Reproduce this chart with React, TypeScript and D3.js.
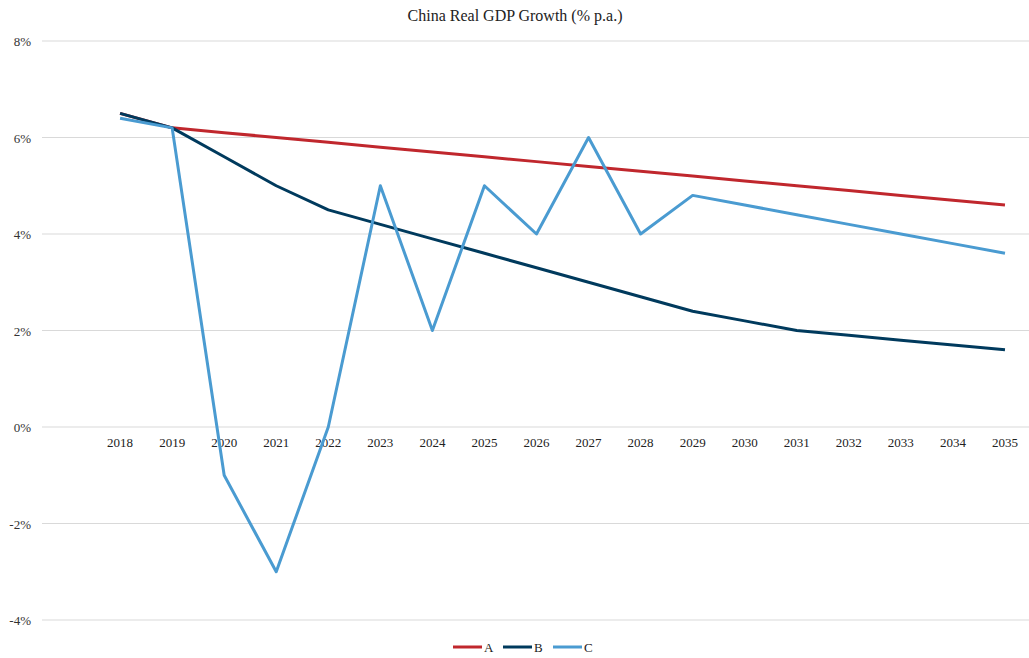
import React from "react";
import * as d3 from "d3";

const categories = ["", "2018", "2019", "2020", "2021", "2022", "2023", "2024", "2025", "2026", "2027", "2028", "2029", "2030", "2031", "2032", "2033", "2034", "2035"];
const years = categories.slice(1);
const seriesA = [6.5, 6.2, 6.1, 6.0, 5.9, 5.8, 5.7, 5.6, 5.5, 5.4, 5.3, 5.2, 5.1, 5.0, 4.9, 4.8, 4.7, 4.6];
const seriesB = [6.5, 6.2, 5.6, 5.0, 4.5, 4.2, 3.9, 3.6, 3.3, 3.0, 2.7, 2.4, 2.2, 2.0, 1.9, 1.8, 1.7, 1.6];
const seriesC = [6.4, 6.2, -1, -3, 0, 5, 2, 5, 4, 6, 4, 4.8, 4.6, 4.4, 4.2, 4.0, 3.8, 3.6];
const yTicks = [-4, -2, 0, 2, 4, 6, 8];
const seriesNames = ["A", "B", "C"];
const colors = ["#C0272D", "#003A5D", "#4A9BD1"];

export default function App() {
  const W = 1029, H = 658;
  const left = 42, right = 1031, top = 41, bottom = 620;
  const x = d3.scaleBand<string>().domain(categories).range([left, right]).padding(0);
  const y = d3.scaleLinear().domain([-4, 8]).range([bottom, top]);
  const line = d3.line<number>()
    .x((_, i) => (x(years[i]) as number) + x.bandwidth() / 2)
    .y((d) => y(d));
  const all = [seriesA, seriesB, seriesC];
  const font = "'Liberation Serif', 'Times New Roman', serif";
  const legendX = [453, 503, 553];
  return (
    <svg width={W} height={H} style={{ position: "absolute", left: 0, top: 0, background: "#fff" }} fontFamily={font}>
      <rect x={0} y={0} width={W} height={H} fill="#fff" />
      <text x={515} y={21} textAnchor="middle" fontSize={16} fill="#222">China Real GDP Growth (% p.a.)</text>
      {yTicks.map((t) => (
        <g key={t}>
          <line x1={left} x2={W} y1={y(t)} y2={y(t)} stroke="#d9d9d9" strokeWidth={1} />
          <text x={31} y={y(t) + 5} textAnchor="end" fontSize={13} fill="#333">{t}%</text>
        </g>
      ))}
      {years.map((c) => (
        <text key={c} x={(x(c) as number) + x.bandwidth() / 2} y={y(0) + 20} textAnchor="middle" fontSize={13} fill="#222">{c}</text>
      ))}
      {all.map((s, i) => (
        <path key={i} d={line(s) as string} fill="none" stroke={colors[i]} strokeWidth={3} strokeLinejoin="round" />
      ))}
      {seriesNames.map((n, i) => (
        <g key={n}>
          <line x1={legendX[i]} x2={legendX[i] + 29} y1={647} y2={647} stroke={colors[i]} strokeWidth={3} />
          <text x={legendX[i] + 31} y={652} fontSize={13} fill="#222">{n}</text>
        </g>
      ))}
    </svg>
  );
}
